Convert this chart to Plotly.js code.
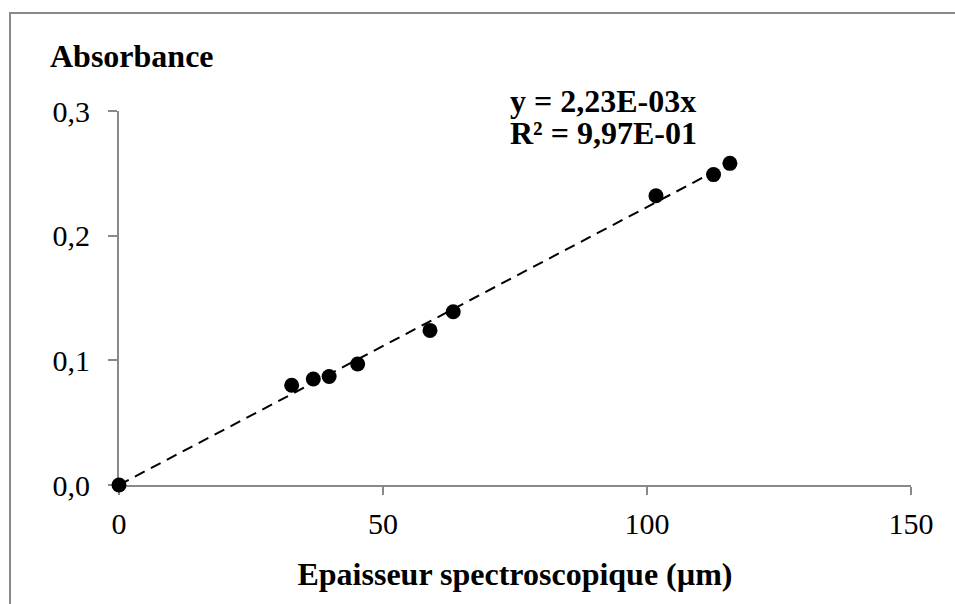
<!DOCTYPE html>
<html>
<head>
<meta charset="utf-8">
<script src="https://cdn.plot.ly/plotly-3.0.1.min.js"></script>
<style>
  html, body { margin: 0; padding: 0; background: #fff; }
  #wrap { position: relative; width: 955px; height: 604px; overflow: hidden; }
  #frame { position: absolute; left: 9px; top: 12px; width: 1000px; height: 700px;
           border-left: 2px solid #898989; border-top: 2px solid #898989; pointer-events: none; }
  #chart { position: absolute; left: 0; top: 0; width: 955px; height: 604px; }
</style>
</head>
<body>
<div id="wrap">
  <div id="chart"></div>
  <div id="frame"></div>
</div>
<script>
// Data
const thickness = [0, 32.7, 36.8, 39.8, 45.2, 58.9, 63.3, 101.7, 112.6, 115.7];
const absorbance = [0, 0.080, 0.085, 0.087, 0.097, 0.124, 0.139, 0.232, 0.249, 0.258];
const trendSlope = 0.00223;
const xTicks = [0, 50, 100, 150];
const yTicks = [0, 0.1, 0.2, 0.3];
const xTitle = 'Epaisseur spectroscopique (µm)';
const yTitle = 'Absorbance';
const eqLine1 = 'y = 2,23E-03x';
const eqLine2 = 'R² = 9,97E-01';

const xMax = Math.max(...thickness);
const trendX = [0, xMax];
const trendY = trendX.map(v => v * trendSlope);

const FONT = 'Liberation Serif, Times New Roman, serif';
const AX = '#898989';

const traces = [
  {
    x: trendX, y: trendY, type: 'scatter', mode: 'lines',
    line: {color: '#000', width: 2, dash: '11px,7px'},
    cliponaxis: false, hoverinfo: 'skip', showlegend: false
  },
  {
    x: thickness, y: absorbance, type: 'scatter', mode: 'markers',
    marker: {color: '#000', size: 15},
    cliponaxis: false, showlegend: false
  }
];

const layout = {
  width: 955, height: 604,
  margin: {l: 119, r: 44, t: 111, b: 119},
  paper_bgcolor: '#fff', plot_bgcolor: '#fff',
  separators: ',.',
  font: {family: FONT, color: '#000', size: 30},
  showlegend: false,
  xaxis: {
    range: [0, 150], tickvals: xTicks, ticktext: xTicks.map(String),
    showline: true, linecolor: AX, linewidth: 2, layer: 'below traces',
    ticks: 'outside', ticklen: 8, tickwidth: 2, tickcolor: AX,
    ticklabelstandoff: 3,
    showgrid: false, zeroline: false,
    tickfont: {family: FONT, size: 30, color: '#000'},
    title: {text: '<b>' + xTitle + '</b>', font: {family: FONT, size: 32, color: '#000'}, standoff: 24}
  },
  yaxis: {
    range: [0, 0.3], tickvals: yTicks, tickformat: '.1f',
    showline: true, linecolor: AX, linewidth: 2, layer: 'below traces',
    ticks: 'outside', ticklen: 9, tickwidth: 2, tickcolor: AX,
    ticklabelstandoff: 12,
    showgrid: false, zeroline: false,
    tickfont: {family: FONT, size: 30, color: '#000'}
  },
  annotations: [
    {text: '<b>' + yTitle + '</b>', xref: 'paper', yref: 'paper',
     x: (48 - 119) / 792, y: (484.5 - 56) / 373.5, xanchor: 'left', yanchor: 'middle',
     showarrow: false, font: {family: FONT, size: 32, color: '#000'}},
    {text: '<b>' + eqLine1 + '</b>', xref: 'paper', yref: 'paper',
     x: (508 - 119) / 792, y: (484.5 - 101) / 373.5, xanchor: 'left', yanchor: 'middle',
     showarrow: false, font: {family: FONT, size: 32, color: '#000'}},
    {text: '<b>' + eqLine2 + '</b>', xref: 'paper', yref: 'paper',
     x: (508 - 119) / 792, y: (484.5 - 133) / 373.5, xanchor: 'left', yanchor: 'middle',
     showarrow: false, font: {family: FONT, size: 32, color: '#000'}}
  ]
};

Plotly.newPlot('chart', traces, layout, {displayModeBar: false, staticPlot: true});
</script>
</body>
</html>
